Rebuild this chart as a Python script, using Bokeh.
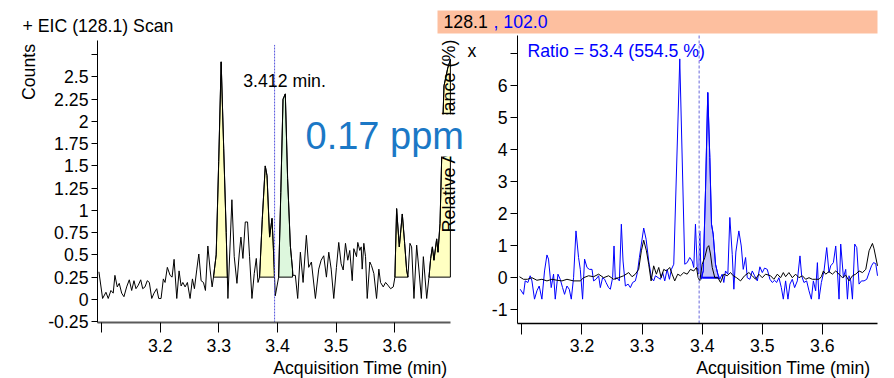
import numpy as np
from bokeh.plotting import figure
from bokeh.models import Label, BoxAnnotation, FixedTicker, LinearAxis, Range1d
from bokeh.embed import file_html
from bokeh.resources import INLINE

FONT = "Liberation Sans"
FS = "17.7px"
BLUE = "#0000FF"

# ---------------- data: left panel, EIC (128.1) ----------------
eic_time = [
    3.0954, 3.1017, 3.1074, 3.1113, 3.1159, 3.1198, 3.1227, 3.1267, 3.1301, 3.1342,
    3.1381, 3.1427, 3.1472, 3.1513, 3.1552, 3.1586, 3.1626, 3.1667, 3.1701, 3.1740,
    3.1779, 3.1814, 3.1855, 3.1894, 3.1940, 3.1974, 3.2014, 3.2053, 3.2082, 3.2121,
    3.2168, 3.2202, 3.2236, 3.2282, 3.2321, 3.2356, 3.2385, 3.2424, 3.2463, 3.2509,
    3.2549, 3.2583, 3.2624, 3.2658, 3.2697, 3.2737, 3.2771, 3.2812, 3.2851, 3.2885,
    3.2908, 3.2954, 3.2997, 3.3039, 3.3082, 3.3125, 3.3154, 3.3222, 3.3262, 3.3308,
    3.3347, 3.3376, 3.3410, 3.3450, 3.3489, 3.3523, 3.3564, 3.3603, 3.3638, 3.3667,
    3.3694, 3.3740, 3.3791, 3.3821, 3.3865, 3.3906, 3.3928, 3.3962, 3.4019, 3.4056,
    3.4094, 3.4133, 3.4172, 3.4219, 3.4265, 3.4304, 3.4344, 3.4390, 3.4436, 3.4492,
    3.4532, 3.4578, 3.4646, 3.4703, 3.4744, 3.4788, 3.4834, 3.4874, 3.4915, 3.4959,
    3.5005, 3.5044, 3.5085, 3.5120, 3.5159, 3.5198, 3.5232, 3.5274, 3.5301, 3.5347,
    3.5369, 3.5403, 3.5427, 3.5444, 3.5472, 3.5501, 3.5530, 3.5574, 3.5603, 3.5643,
    3.5689, 3.5728, 3.5757, 3.5803, 3.5843, 3.5882, 3.5928, 3.5974, 3.6002, 3.6031,
    3.6077, 3.6128, 3.6168, 3.6202, 3.6224, 3.6258, 3.6287, 3.6327, 3.6373, 3.6412,
    3.6453, 3.6487, 3.6544, 3.6583, 3.6612, 3.6641, 3.6668, 3.6714, 3.6737, 3.6771,
    3.6800, 3.6839, 3.6903, 3.6950,
]
eic_counts = [
    0.31, 0.01, 0.08, 0.01, 0.10, 0.07, 0.27, 0.14, 0.18, 0.07,
    0.03, 0.14, 0.22, 0.10, 0.21, 0.12, 0.16, 0.22, 0.12, 0.14,
    0.21, 0.19, 0.01, 0.07, 0.12, 0.01, 0.01, 0.23, 0.19, 0.36,
    0.27, 0.25, 0.45, 0.01, 0.32, 0.15, 0.19, 0.14, 0.19, 0.01,
    0.23, 0.12, 0.34, 0.51, 0.21, 0.19, 0.10, 0.60, 0.33, 0.14,
    0.25, 0.50, 1.55, 2.67, 1.70, 0.75, 0.01, 1.12, 0.48, 0.18,
    0.51, 0.70, 0.46, 0.87, 0.87, 0.48, 0.01, 0.29, 0.46, 0.19,
    0.25, 0.90, 1.50, 1.39, 0.70, 0.91, 0.60, 0.04, 0.25, 1.20,
    2.25, 2.31, 1.36, 0.60, 0.27, 0.27, 0.01, 0.53, 0.19, 0.72,
    0.36, 0.42, 0.01, 0.34, 0.44, 0.49, 0.25, 0.53, 0.34, 0.01,
    0.36, 0.64, 0.40, 0.33, 0.63, 0.44, 0.55, 0.21, 0.57, 0.48,
    0.64, 0.55, 0.59, 0.34, 0.63, 0.48, 0.01, 0.42, 0.38, 0.29,
    0.01, 0.34, 0.19, 0.14, 0.19, 0.16, 0.12, 0.14, 0.25, 1.02,
    0.59, 0.96, 0.63, 0.33, 0.25, 0.63, 0.59, 0.01, 0.61, 0.33,
    0.01, 0.48, 0.01, 0.25, 0.46, 0.59, 0.44, 0.68, 0.53, 0.85,
    1.60, 2.40, 2.60, 2.70,
]
eic_peak_start = [3.2908, 3.3694, 3.4019, 3.6002, 3.6583]
eic_peak_end = [3.3145, 3.3945, 3.4255, 3.6224, 3.6948]
eic_peak_is_target = [False, False, True, False, False]
eic_baseline = 0.25

# ---------------- data: right panel, qualifier overlay ----------------
qual_time_128 = [
    3.0960, 3.1027, 3.1093, 3.1167, 3.1250, 3.1333, 3.1417, 3.1500, 3.1583, 3.1667,
    3.1750, 3.1860, 3.1972, 3.2027, 3.2110, 3.2193, 3.2277, 3.2360, 3.2443, 3.2527,
    3.2610, 3.2693, 3.2777, 3.2833, 3.2888, 3.2943, 3.2988, 3.3027, 3.3072, 3.3110,
    3.3150, 3.3193, 3.3238, 3.3277, 3.3317, 3.3360, 3.3405, 3.3460, 3.3500, 3.3543,
    3.3593, 3.3638, 3.3693, 3.3750, 3.3805, 3.3860, 3.3905, 3.3933, 3.3960, 3.4000,
    3.4043, 3.4083, 3.4110, 3.4138, 3.4167, 3.4210, 3.4260, 3.4305, 3.4360, 3.4417,
    3.4472, 3.4517, 3.4572, 3.4638, 3.4705, 3.4777, 3.4833, 3.4888, 3.4943, 3.5000,
    3.5055, 3.5138, 3.5193, 3.5250, 3.5305, 3.5350, 3.5388, 3.5443, 3.5500, 3.5555,
    3.5610, 3.5667, 3.5722, 3.5777, 3.5833, 3.5888, 3.5943, 3.5983, 3.6017, 3.6055,
    3.6110, 3.6167, 3.6222, 3.6277, 3.6333, 3.6388, 3.6443, 3.6500, 3.6555, 3.6610,
    3.6667, 3.6722, 3.6777, 3.6833, 3.6860, 3.6917,
]
qual_abund_128 = [
    0.03, -0.05, -0.05, 0.00, -0.08, -0.05, -0.10, -0.05, -0.08, -0.10,
    -0.05, -0.10, -0.10, 0.00, 0.06, 0.03, 0.11, 0.00, 0.06, -0.05,
    0.00, 0.06, 0.16, 0.03, 0.11, 0.26, 0.84, 1.17, 0.84, 0.42,
    -0.10, 0.37, 0.11, 0.32, 0.00, 0.26, 0.21, 0.32, 0.11, -0.10,
    0.11, 0.06, 0.16, 0.11, 0.26, 0.21, 0.32, 0.00, -0.10, 0.42,
    0.63, 0.94, 1.00, 0.74, 0.32, 0.00, 0.00, -0.15, 0.11, 0.06,
    0.16, 0.06, 0.00, -0.10, 0.06, 0.16, 0.06, -0.05, 0.11, 0.00,
    0.11, 0.06, -0.05, 0.11, 0.00, 0.16, 0.03, 0.16, 0.00, 0.11,
    0.00, 0.06, -0.05, 0.00, -0.05, -0.05, -0.05, 0.03, 0.21, 0.11,
    0.19, 0.11, 0.21, 0.11, 0.00, 0.08, -0.10, 0.06, 0.11, 0.21,
    0.16, 0.26, 0.84, 1.07, 0.90, 0.37,
]
qual_time_102 = [
    3.0972, 3.1027, 3.1055, 3.1100, 3.1138, 3.1167, 3.1210, 3.1250, 3.1288, 3.1333,
    3.1377, 3.1417, 3.1443, 3.1488, 3.1527, 3.1555, 3.1600, 3.1638, 3.1677, 3.1710,
    3.1750, 3.1788, 3.1822, 3.1860, 3.1900, 3.1943, 3.1972, 3.2010, 3.2043, 3.2083,
    3.2122, 3.2167, 3.2193, 3.2233, 3.2277, 3.2305, 3.2343, 3.2377, 3.2400, 3.2443,
    3.2472, 3.2510, 3.2533, 3.2555, 3.2583, 3.2622, 3.2655, 3.2683, 3.2722, 3.2767,
    3.2805, 3.2843, 3.2888, 3.2922, 3.2955, 3.2988, 3.3027, 3.3067, 3.3110, 3.3155,
    3.3193, 3.3222, 3.3267, 3.3305, 3.3343, 3.3377, 3.3417, 3.3455, 3.3488, 3.3527,
    3.3627, 3.3710, 3.3750, 3.3793, 3.3833, 3.3860, 3.3888, 3.3917, 3.3943, 3.3960,
    3.3983, 3.4017, 3.4055, 3.4093, 3.4127, 3.4155, 3.4183, 3.4222, 3.4260, 3.4293,
    3.4333, 3.4360, 3.4388, 3.4427, 3.4460, 3.4500, 3.4527, 3.4560, 3.4610, 3.4650,
    3.4683, 3.4722, 3.4750, 3.4793, 3.4833, 3.4872, 3.4917, 3.4960, 3.5000, 3.5038,
    3.5083, 3.5127, 3.5167, 3.5205, 3.5238, 3.5277, 3.5317, 3.5350, 3.5388, 3.5427,
    3.5460, 3.5500, 3.5538, 3.5583, 3.5627, 3.5655, 3.5693, 3.5738, 3.5777, 3.5817,
    3.5850, 3.5888, 3.5917, 3.5943, 3.5983, 3.6027, 3.6072, 3.6110, 3.6138, 3.6183,
    3.6222, 3.6250, 3.6277, 3.6305, 3.6350, 3.6388, 3.6417, 3.6443, 3.6472, 3.6500,
    3.6538, 3.6572, 3.6610, 3.6650, 3.6693, 3.6738, 3.6777, 3.6817, 3.6850, 3.6888,
    3.6917,
]
qual_abund_102 = [
    -0.36, -0.52, -0.10, -0.15, 0.06, -0.10, -0.67, -0.41, -0.26, -0.67,
    0.21, 0.71, 0.58, -0.31, 0.11, -0.67, 0.11, -0.05, -0.31, -0.52,
    -0.26, -0.36, -0.67, 0.00, 1.46, 0.63, 0.26, -0.67, 0.58, 0.32,
    0.26, 0.26, -0.10, -0.05, 0.06, -0.31, 0.00, -0.05, -0.15, -0.31,
    -0.36, 0.00, 0.99, -0.05, 0.00, -0.10, 1.67, 0.52, -0.26, -0.20,
    -0.31, -0.15, -0.10, 0.16, 0.63, 1.05, 1.55, 1.20, 0.52, 0.00,
    -0.10, 0.06, 0.00, -0.05, 0.16, -0.10, 0.26, -0.05, 0.26, 0.42,
    6.83, 0.42, 0.47, 0.63, 0.52, 0.32, 1.67, 0.32, 0.11, 1.46,
    -0.05, 0.21, 2.71, 5.78, 3.75, 1.67, 1.36, 0.42, 0.11, -0.05,
    0.11, -0.15, 0.21, 0.11, 1.88, 0.73, -0.36, 0.80, 1.46, 0.99,
    0.26, 0.63, 0.00, -0.05, 0.21, 0.06, -0.10, 0.34, 0.16, 0.30,
    0.26, -0.05, -0.15, -0.08, -0.15, 0.00, -0.31, -0.67, -0.10, -0.67,
    -0.20, -0.05, -0.31, -0.10, 0.68, 0.06, -0.15, -0.10, -0.41, -0.67,
    -0.10, -0.41, 0.47, -0.67, -0.15, 0.21, 0.94, 0.16, 0.37, 0.47,
    0.99, 0.21, -0.67, 1.05, 0.00, 0.26, -0.67, 0.06, -0.10, -0.67,
    1.05, 0.94, -0.20, -0.10, -0.10, -0.05, 0.16, 0.37, 0.47, 0.44,
    0.06,
]
qual_peak_start = 3.4000
qual_peak_end = 3.4277
qual_baseline = 0.0

# ---------------- ticks / texts ----------------
x_ticks = [3.1, 3.2, 3.3, 3.4, 3.5, 3.6]
x_tick_labels = ["", "3.2", "3.3", "3.4", "3.5", "3.6"]
left_y_ticks = [-0.25, 0, 0.25, 0.5, 0.75, 1, 1.25, 1.5, 1.75, 2, 2.25, 2.5, 2.75]
left_y_tick_labels = ["-0.25", "0", "0.25", "0.5", "0.75", "1", "1.25", "1.5",
                      "1.75", "2", "2.25", "2.5", ""]
right_y_ticks = [-1, 0, 1, 2, 3, 4, 5, 6, 7]
right_y_tick_labels = ["-1", "0", "1", "2", "3", "4", "5", "6", ""]
rt_marker = 3.395
rt_label_time = 3.412
rt_label = "3.412 min."
ratio_text = "Ratio = 53.4 (554.5 %)"
ppm_text = "0.17 ppm"

# ---------------- layout (pixel geometry of the two panels) ----------------
W, H = 894, 378
LEFT_X = (3.093, 3.695)      # data extent of left panel
LEFT_Y = (-0.26, 2.91)
LEFT_PX = (97, 450, 40, 322)  # left, right, top, bottom pixels
RIGHT_X = (3.0927, 3.6917)
RIGHT_Y = (-1.43, 7.56)
RIGHT_PX = (517, 877, 35, 323)


def full_range(d, px0, px1, total, vertical=False):
    d0, d1 = d
    s = (px1 - px0) / (d1 - d0)
    if not vertical:
        return d0 - px0 / s, d1 + (total - px1) / s
    return d0 - (total - px1) / s, d1 + px0 / s


LX = full_range(LEFT_X, LEFT_PX[0], LEFT_PX[1], W)
LY = full_range(LEFT_Y, LEFT_PX[2], LEFT_PX[3], H, vertical=True)
RX = full_range(RIGHT_X, RIGHT_PX[0], RIGHT_PX[1], W)
RY = full_range(RIGHT_Y, RIGHT_PX[2], RIGHT_PX[3], H, vertical=True)


def fx(px):
    return LX[0] + px * (LX[1] - LX[0]) / W


def fy(py):
    return LY[1] - py * (LY[1] - LY[0]) / H


def peak_polygon(t, v, t0, t1, base):
    t = np.asarray(t, dtype=float)
    v = np.asarray(v, dtype=float)
    inside = (t > t0) & (t < t1)
    xs = [t0, t0] + list(t[inside]) + [t1, t1]
    ys = [base, float(np.interp(t0, t, v))] + list(v[inside]) + [float(np.interp(t1, t, v)), base]
    return xs, ys


p = figure(width=W, height=H, x_range=Range1d(*LX), y_range=Range1d(*LY),
           x_axis_location=None, y_axis_location=None, min_border=0,
           output_backend="svg", toolbar_location=None)
p.extra_x_ranges = {"rx": Range1d(*RX)}
p.extra_y_ranges = {"ry": Range1d(*RY)}
p.outline_line_color = None
p.background_fill_color = "white"
p.border_fill_color = "white"
p.grid.visible = False


def make_axis(ticks, labels, bounds, loc, tick_out, standoff, line_color="black", line_width=1, **kw):
    ax = LinearAxis(fixed_location=loc, bounds=bounds, ticker=FixedTicker(ticks=ticks),
                    major_label_overrides={k: s for k, s in zip(ticks, labels)}, **kw)
    ax.major_label_text_font = FONT
    ax.major_label_text_font_size = FS
    ax.major_label_text_color = "black"
    ax.minor_tick_line_color = None
    ax.major_tick_in = 0
    ax.major_tick_out = tick_out
    ax.major_tick_line_color = "black"
    ax.major_label_standoff = standoff
    ax.axis_line_color = line_color
    ax.axis_line_width = line_width
    return ax


p.add_layout(make_axis(left_y_ticks, left_y_tick_labels, LEFT_Y, LEFT_X[0], 6, 3), "left")
p.add_layout(make_axis(x_ticks, x_tick_labels, LEFT_X, LEFT_Y[0], 10, 6, "#5a5a5a", 2), "below")
p.add_layout(make_axis(right_y_ticks, right_y_tick_labels, RIGHT_Y, RIGHT_X[0], 7, 3,
                       x_range_name="rx", y_range_name="ry"), "left")
p.add_layout(make_axis(x_ticks, x_tick_labels, RIGHT_X, RIGHT_Y[0], 11, 4, "black", 1.5,
                       x_range_name="rx", y_range_name="ry"), "below")

# ---- left panel marks ----
pxs, pys, pcol = [], [], []
for s, e, tgt in zip(eic_peak_start, eic_peak_end, eic_peak_is_target):
    xs, ys = peak_polygon(eic_time, eic_counts, s, e, eic_baseline)
    pxs.append(xs)
    pys.append(ys)
    pcol.append("#DDF7DD" if tgt else "#FFFFC2")
p.patches(pxs, pys, fill_color=pcol, line_color="black", line_width=1)
p.line(eic_time, eic_counts, line_color="black", line_width=1)
p.segment(x0=[rt_marker], y0=[LEFT_Y[0]], x1=[rt_marker], y1=[LEFT_Y[1] - 0.05],
          line_color="#5555DD", line_width=1, line_dash="2 1")

# ---- right panel marks ----
qx, qy = peak_polygon(qual_time_102, qual_abund_102, qual_peak_start, qual_peak_end, qual_baseline)
p.patch(qx, qy, fill_color="#C2C2F7", line_color=BLUE, line_width=1,
        x_range_name="rx", y_range_name="ry")
p.line([qual_peak_start, qual_peak_end], [qual_baseline, qual_baseline], line_color=BLUE,
       line_width=2, x_range_name="rx", y_range_name="ry")
p.line(qual_time_102, qual_abund_102, line_color=BLUE, line_width=1,
       x_range_name="rx", y_range_name="ry")
p.line(qual_time_128, qual_abund_128, line_color="black", line_width=1,
       x_range_name="rx", y_range_name="ry")
p.segment(x0=[rt_marker], y0=[RIGHT_Y[0]], x1=[rt_marker], y1=[RIGHT_Y[1]],
          line_color="#9A9AE8", line_width=1.5, line_dash="3 2",
          x_range_name="rx", y_range_name="ry")

# ---- header bar of right panel ----
p.add_layout(BoxAnnotation(left=fx(437), right=fx(877), top=fy(10), bottom=fy(33),
                           fill_color="#FDBF9F", fill_alpha=1.0, line_color=None))


def lab(x, y, text, size=FS, color="black", align="left", baseline="middle", angle=0.0, **kw):
    p.add_layout(Label(x=x, y=y, text=text, text_font=FONT, text_font_size=size,
                       text_color=color, text_align=align, text_baseline=baseline,
                       angle=angle, **kw))


lab(fx(22), fy(25), "+ EIC (128.1) Scan")
lab(fx(28), fy(71.5), "Counts", align="center", angle=np.pi / 2)
lab(rt_label_time, fy(80), rt_label, align="center")
lab(fx(447), fy(367), "Acquisition Time (min)", align="right")

lab(fx(443), fy(21), "128.1")
lab(fx(493), fy(21), ", 102.0", color=BLUE)
lab(fx(467), fy(50), "x")
lab(fx(527), fy(50), ratio_text, color=BLUE)
lab(fx(448), fy(135), "Relative Abundance (%)", size="18px", align="center", angle=np.pi / 2)
lab(fx(305), fy(135), ppm_text, size="38px", color="#1B78C6", baseline="alphabetic",
    background_fill_color="white", background_fill_alpha=1.0)
lab(fx(870), fy(367), "Acquisition Time (min)", align="right")

with open("out.html", "w") as f:
    f.write(file_html(p, INLINE))
